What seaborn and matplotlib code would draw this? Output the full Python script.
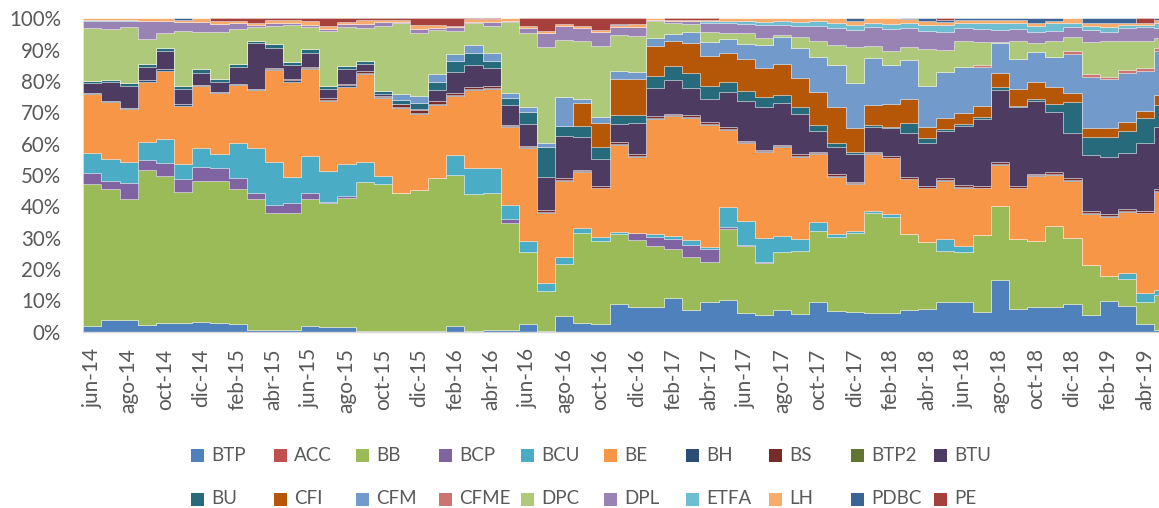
import numpy as np
import matplotlib
matplotlib.use("Agg")
import matplotlib.pyplot as plt
from matplotlib.patches import Rectangle
import seaborn as sns

# ---------------- data (monthly composition, %) ----------------
month_abbr = ["jun", "jul", "ago", "sep", "oct", "nov", "dic", "ene", "feb", "mar", "abr", "may"]
months = [f"{month_abbr[i % 12]}-{14 + (i + 5) // 12}" for i in range(60)]  # jun-14 .. may-19

BTP = [1.9, 3.7, 3.7, 2.1, 2.9, 2.7, 3.1, 2.9, 2.3, 0.5,
       0.5, 0.5, 1.9, 1.6, 1.6, 0.3, 0.2, 0.2, 0.2, 0.2,
       1.8, 0.2, 0.5, 0.7, 2.4, 0.2, 5.0, 2.9, 2.3, 8.8,
       8.0, 8.0, 10.6, 6.9, 9.6, 10.1, 6.1, 5.2, 6.9, 5.6,
       9.6, 6.7, 6.4, 5.9, 5.9, 6.9, 7.2, 9.6, 9.6, 6.4,
       16.5, 7.4, 7.8, 8.0, 8.7, 5.3, 9.9, 8.2, 2.4, 0.7]
ACC = [0.0] * 60
BB = [45.2, 41.7, 38.5, 49.5, 46.8, 42.0, 45.1, 45.2, 43.1, 41.7,
      37.3, 37.5, 40.3, 39.6, 41.2, 47.4, 46.9, 44.2, 45.0, 48.7,
      48.3, 43.6, 43.9, 33.9, 22.9, 12.9, 16.6, 28.7, 26.7, 22.4,
      21.3, 19.3, 15.7, 16.8, 12.7, 22.6, 21.2, 16.6, 18.4, 20.3,
      22.5, 23.6, 25.0, 31.9, 30.8, 24.2, 21.5, 16.3, 15.9, 24.4,
      23.6, 22.1, 21.2, 25.7, 21.1, 16.0, 8.0, 8.5, 7.2, 11.0]
BCP = [3.4, 2.8, 5.1, 3.2, 4.0, 3.9, 4.5, 4.1, 3.5, 2.2,
       2.6, 3.0, 2.2, 0.3, 0.5, 0, 0, 0, 0, 0,
       0, 0, 0, 1.3, 0, 0, 0, 0, 0, 0,
       2.1, 3.0, 3.4, 4.0, 4.0, 0.6, 0.4, 0.5, 0, 0,
       0, 0, 0, 0, 0, 0, 0, 0, 0, 0,
       0, 0, 0, 0, 0, 0, 0, 0, 0, 0]
BCU = [6.6, 6.9, 7.0, 5.7, 7.8, 4.9, 5.8, 4.4, 11.4, 14.3,
       13.9, 8.5, 11.8, 9.9, 10.1, 6.6, 2.6, 0, 0, 0,
       6.2, 8.5, 7.9, 4.5, 3.7, 2.5, 2.1, 1.4, 1.1, 0.7,
       0.2, 0.8, 0.8, 1.6, 0.6, 6.6, 7.6, 7.5, 5.2, 3.6,
       3.0, 0.9, 0.7, 0.7, 0.9, 0, 0, 3.6, 1.9, 0,
       0, 0, 0, 0, 0, 0, 0, 2.1, 2.8, 1.6]
BE = [18.8, 18.2, 16.7, 19.3, 21.7, 18.6, 19.9, 19.5, 18.3, 18.4,
      29.2, 30.3, 27.5, 22.2, 24.8, 27.9, 24.8, 26.9, 24.2, 23.4,
      18.9, 24.8, 25.1, 24.8, 29.5, 22.2, 24.5, 17.9, 15.6, 27.7,
      24.3, 36.8, 38.3, 39.0, 39.1, 24.5, 25.0, 27.5, 28.5, 26.4,
      21.6, 18.3, 15.0, 18.2, 17.7, 17.5, 17.0, 18.7, 18.6, 14.9,
      13.1, 16.2, 20.7, 16.3, 18.4, 16.3, 18.8, 19.5, 25.4, 31.4]
BH = [0.4, 0.4, 0.3, 0.5, 0.5, 0.5, 0.4, 0.4, 0.4, 0.5,
      0.4, 0.4, 0.3, 0.4, 0.4, 0.4, 0.3, 0.4, 0.3, 0.3,
      0.3, 0.4, 0.3, 0.3, 0.3, 0.3, 0.3, 0.3, 0.3, 0.3,
      0.3, 0.3, 0.3, 0.3, 0.3, 0.3, 0.3, 0.3, 0.3, 0.3,
      0.2, 0.2, 0.2, 0.2, 0.2, 0.2, 0.2, 0.2, 0.2, 0.2,
      0.2, 0.2, 0.2, 0.2, 0.2, 0.2, 0.2, 0.2, 0.2, 0.2]
BS = [0, 0, 0, 0, 0, 0, 0, 0, 0, 0,
      0.4, 0.5, 0.6, 0.5, 0.4, 0.6, 0.5, 0.8, 1.0, 1.0,
      0.8, 0.6, 0.8, 0.5, 0.6, 0.6, 0.4, 0.3, 0.5, 0.5,
      0.5, 0.5, 0.4, 0.5, 0.5, 0.5, 0.3, 0.4, 0.3, 0.4,
      0.4, 0.5, 0.4, 0.4, 0.5, 0.6, 0.5, 0.6, 0.5, 0.5,
      0.7, 0.5, 0.5, 0.7, 0.7, 0.7, 0.6, 0.5, 0.5, 0.5]
BTP2 = [0.0] * 60
BTU = [3.2, 6.1, 7.2, 4.3, 5.8, 5.0, 3.9, 3.3, 5.4, 14.4,
       6.1, 4.4, 4.2, 2.9, 4.7, 2.1, 0.7, 0.3, 0.5, 3.5,
       6.7, 7.0, 5.8, 6.3, 6.8, 10.8, 13.5, 10.7, 8.5, 5.8,
       9.8, 9.0, 10.8, 8.6, 7.3, 11.2, 12.8, 13.8, 13.5, 12.9,
       6.8, 8.6, 9.0, 7.9, 8.9, 14.1, 13.7, 15.1, 18.9, 21.5,
       23.0, 25.2, 23.3, 19.3, 14.4, 17.9, 18.4, 18.1, 21.6, 19.8]
BU = [0.5, 0.6, 0.8, 0.8, 1.0, 0.8, 1.0, 0.8, 0.9, 0.7,
      1.3, 1.1, 1.3, 1.0, 1.1, 1.2, 0.9, 1.1, 1.7, 2.7,
      3.5, 3.9, 2.2, 2.2, 4.0, 9.3, 3.2, 3.4, 3.8, 2.9,
      2.6, 4.0, 4.5, 5.0, 4.3, 3.4, 3.1, 3.0, 2.4, 2.3,
      1.9, 1.3, 0.7, 0.8, 0.5, 3.2, 1.6, 0.5, 0.7, 0.7,
      0.8, 0.4, 0.4, 2.4, 9.9, 5.8, 6.1, 6.9, 8.0, 7.1]
CFI = [0, 0, 0, 0, 0, 0, 0, 0, 0, 0,
       0, 0, 0, 0, 0, 0, 0, 0, 0, 0,
       0, 0, 0, 0, 0, 0, 0, 7.3, 7.9, 11.5,
       11.5, 9.5, 7.8, 9.5, 9.6, 9.2, 10.1, 9.5, 9.8, 9.3,
       10.6, 11.7, 7.5, 6.3, 7.2, 7.4, 3.5, 3.5, 3.4, 3.4,
       4.5, 5.4, 5.7, 5.5, 2.9, 2.7, 2.9, 3.0, 2.3, 3.2]
CFM = [0, 0, 0, 0, 0, 0, 0, 0, 0, 0,
       0, 0, 0, 0, 0, 0, 0, 2.0, 2.3, 2.4,
       2.0, 2.5, 2.3, 1.6, 1.6, 1.3, 9.2, 1.2, 1.9, 2.7,
       2.4, 2.6, 2.4, 3.5, 4.3, 4.3, 4.8, 7.2, 8.8, 9.3,
       11.2, 13.3, 14.6, 14.9, 12.5, 12.6, 13.2, 14.9, 14.7, 12.6,
       9.6, 9.5, 9.6, 9.6, 12.2, 16.5, 15.6, 15.7, 12.8, 14.2]
CFME = [0, 0, 0, 0, 0, 0, 0, 0, 0, 0,
        0, 0, 0, 0, 0, 0, 0, 0, 0, 0,
        0, 0, 0, 0, 0, 0, 0, 0, 0, 0,
        0, 0, 0, 0, 0, 0, 0, 0, 0, 0,
        0, 0, 0, 0, 0, 0, 0, 0, 0, 0.5,
        0, 0, 0, 0, 1.1, 0.9, 0.9, 0.9, 1.1, 0.7]
DPC = [16.8, 16.2, 17.8, 7.9, 4.7, 17.5, 11.9, 15.0, 11.3, 4.4,
       5.9, 11.7, 7.2, 17.6, 12.5, 10.3, 20.8, 22.5, 20.0, 14.1,
       7.6, 6.9, 8.8, 22.8, 23.4, 30.9, 18.3, 18.5, 22.7, 11.4,
       11.5, 5.3, 3.4, 2.4, 3.4, 2.1, 3.7, 2.3, 0.6, 3.7,
       5.0, 6.4, 11.2, 4.0, 4.5, 4.3, 11.7, 6.9, 8.4, 7.2,
       0.5, 5.7, 2.8, 5.2, 4.4, 10.0, 11.2, 9.0, 8.5, 3.2]
DPL = [2.3, 2.5, 2.0, 5.8, 3.9, 3.0, 3.1, 2.5, 1.8, 0.8,
       1.0, 0.7, 0.7, 0.6, 0.8, 1.4, 1.0, 0.3, 1.3, 0.5,
       1.0, 0.4, 1.3, 0.2, 1.6, 4.4, 4.6, 4.2, 4.4, 2.6,
       2.8, 0.5, 0.8, 1.0, 2.9, 3.0, 2.9, 4.0, 3.3, 3.5,
       4.9, 5.4, 5.6, 5.9, 7.0, 5.8, 6.0, 5.8, 4.1, 4.2,
       3.7, 3.9, 3.5, 3.2, 3.3, 3.9, 3.1, 4.4, 4.3, 3.2]
ETFA = [0.3, 0.4, 0.4, 0, 0, 0, 0, 0, 0, 0,
        0, 0, 0, 0, 0, 0, 0, 0, 0, 0,
        0, 0, 0, 0, 0, 0, 0, 0, 0, 0,
        0, 0, 0, 0, 0.4, 0.8, 0.8, 1.1, 1.1, 1.1,
        1.3, 1.6, 1.6, 1.5, 1.6, 1.8, 1.8, 2.1, 1.6, 1.9,
        2.1, 2.0, 1.8, 2.3, 1.3, 1.3, 1.6, 0.9, 0.8, 1.6]
LH = [0.6, 0.5, 0.5, 0.9, 0.9, 0.6, 1.3, 0.9, 0.6, 0.7,
      0.8, 1.0, 1.2, 1.0, 0.8, 1.2, 0.8, 0.8, 1.5, 1.0,
      0.6, 1.0, 0.9, 0.9, 0.9, 0.6, 0.5, 0.7, 0.5, 0.6,
      0.9, 0.4, 0.4, 0.5, 0.4, 0.8, 0.9, 1.1, 0.9, 1.3,
      1.0, 1.5, 1.2, 1.4, 1.8, 1.1, 1.1, 1.1, 1.1, 1.1,
      1.1, 1.1, 1.1, 0.8, 1.4, 1.1, 1.1, 0.7, 0.7, 1.1]
PDBC = [0, 0, 0, 0, 0, 0.5, 0, 0, 0, 0,
        0, 0, 0, 0, 0, 0, 0, 0, 0, 0,
        0, 0, 0, 0, 0, 0, 0, 0, 0, 0.3,
        0, 0, 0, 0, 0, 0, 0, 0, 0, 0,
        0, 0, 0.9, 0, 0, 0.3, 1.0, 0.5, 0.4, 0.5,
        0.5, 0.4, 1.4, 0.8, 0, 1.4, 1.6, 1.4, 0, 0.5]
PE = [0, 0, 0, 0, 0, 0, 0, 1.0, 1.0, 1.4,
      0.6, 0.4, 0.8, 2.4, 1.1, 0.6, 0.5, 0.5, 2.0, 2.2,
      2.3, 0.2, 0.2, 0, 2.3, 4.0, 1.8, 2.5, 3.8, 1.8,
      1.8, 0, 0.4, 0.4, 0.6, 0, 0, 0, 0, 0,
      0, 0, 0, 0, 0, 0, 0, 0.6, 0, 0,
      0, 0, 0, 0, 0, 0, 0, 0, 1.4, 0]

names = ["BTP", "ACC", "BB", "BCP", "BCU", "BE", "BH", "BS", "BTP2", "BTU",
         "BU", "CFI", "CFM", "CFME", "DPC", "DPL", "ETFA", "LH", "PDBC", "PE"]
series = [BTP, ACC, BB, BCP, BCU, BE, BH, BS, BTP2, BTU,
          BU, CFI, CFM, CFME, DPC, DPL, ETFA, LH, PDBC, PE]
colors = ["#4F81BD", "#C0504D", "#9BBB59", "#8064A2", "#4BACC6", "#F79646",
          "#2C4D75", "#772C2A", "#5F7530", "#4D3B62", "#276A7C", "#B65708",
          "#729ACA", "#CD7371", "#AFC97A", "#9983B5", "#6FBDD1", "#F9AB6B",
          "#3A6496", "#A5403D"]

# ---------------- style ----------------
sns.set_theme(style="white")
plt.rcParams["font.family"] = ["Lato", "DejaVu Sans"]
palette = sns.color_palette(colors)
txt_color = "#595959"

W, H = 1159, 508
fig = plt.figure(figsize=(W / 100, H / 100), dpi=100)
ax_l, ax_r, ax_t, ax_b = 83.3, 1159.0, 18.3, 331.7
ax = fig.add_axes([ax_l / W, 1 - ax_b / H, (ax_r - ax_l) / W, (ax_b - ax_t) / H])

# 100% stacked: normalise each month
vals = np.array(series, dtype=float)
pct = vals / vals.sum(axis=0, keepdims=True) * 100
n = pct.shape[1]
x = np.arange(n + 1)
pct_ext = np.concatenate([pct, pct[:, -1:]], axis=1)

ax.stackplot(x, pct_ext, colors=palette, step="post",
             edgecolor=(1, 1, 1, 0.35), linewidth=0.6)

ax.set_xlim(0, (ax_r - ax_l) / 18.15)
ax.set_ylim(0, 100)
ax.set_yticks(np.arange(0, 101, 10))
ax.set_yticklabels([f"{v}%" for v in range(0, 101, 10)], fontsize=14.8, color=txt_color)
tick_idx = list(range(0, n, 2))
ax.set_xticks([i + 0.5 for i in tick_idx])
ax.set_xticklabels([months[i] for i in tick_idx], rotation=90, fontsize=15, color=txt_color)
ax.tick_params(axis="x", length=0, pad=12)
ax.tick_params(axis="y", length=0, pad=16)
for s in ["left", "right", "top"]:
    ax.spines[s].set_visible(False)
ax.spines["bottom"].set_color("#D9D9D9")
ax.spines["bottom"].set_linewidth(1.0)
ax.grid(False)

# ---------------- legend (two rows of ten, Excel-style) ----------------
for k, (name, col) in enumerate(zip(names, palette)):
    c, r = k % 10, k // 10
    x0 = 191 + 82.5 * c
    yc = 455.5 + 43.5 * r
    fig.add_artist(Rectangle((x0 / W, 1 - (yc + 6.5) / H), 13 / W, 13 / H,
                             transform=fig.transFigure, facecolor=col, edgecolor="none"))
    fig.text((x0 + 20.5) / W, 1 - yc / H, name, fontsize=13.5, color=txt_color,
             ha="left", va="center")

fig.savefig("out.png", dpi=100)
